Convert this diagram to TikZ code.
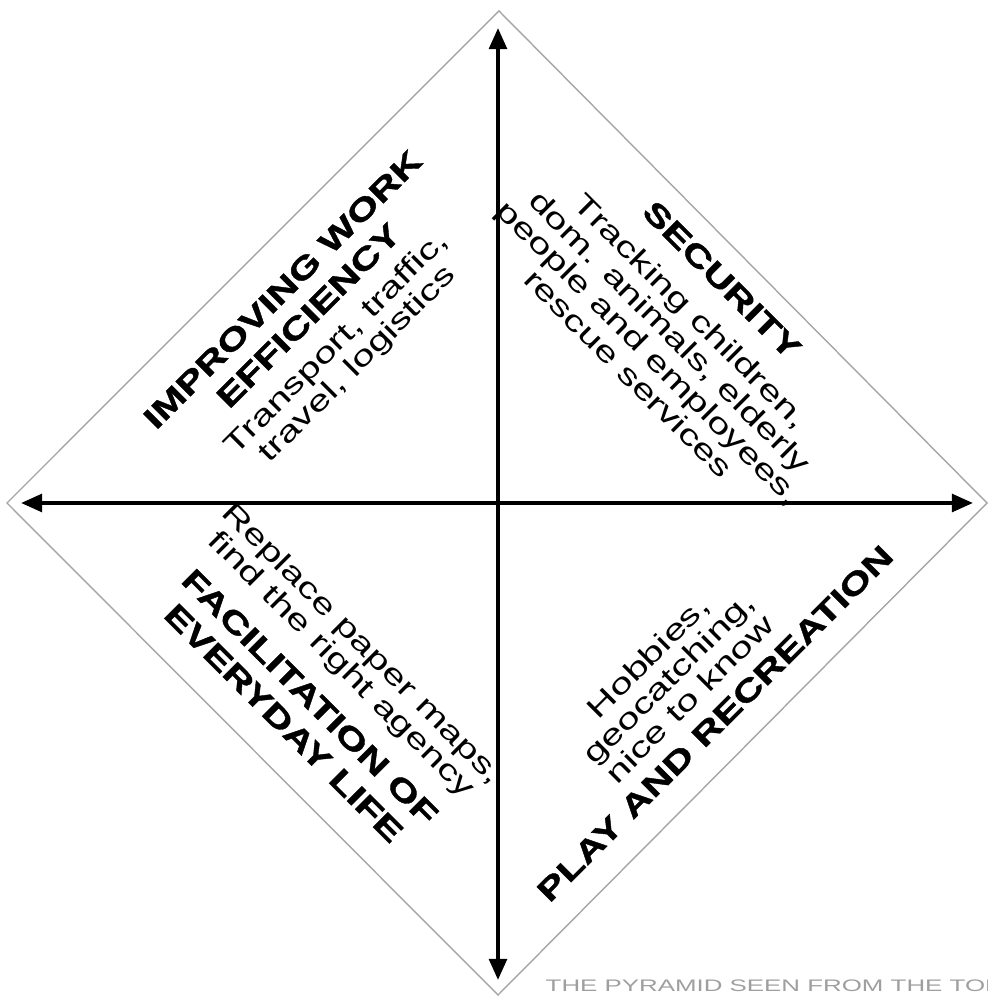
\documentclass[tikz,border=0pt]{standalone}
\usepackage{fontspec}
\usepackage{tikz}
\usetikzlibrary{arrows.meta}
\newfontfamily\headfont[FakeStretch=1.35,BoldFeatures={FakeBold=1.3}]{Liberation Sans}
\newfontfamily\bodyfont[FakeStretch=1.4]{Liberation Sans}
\newfontfamily\notefont[FakeStretch=1.55]{Liberation Sans}

\begin{document}
\begin{tikzpicture}
\tikzset{frame/.style = {draw=gray!70, line width=0.4pt}}
\tikzset{axis/.style = {line width=1.15pt, {Triangle[length=6pt,width=5pt]}-{Triangle[length=6pt,width=5pt]}}}
\tikzset{head/.style = {align=center, inner sep=0pt, font=\headfont\bfseries\fontsize{8.7}{10.5}\selectfont}}
\tikzset{body/.style = {align=center, inner sep=0pt, font=\bodyfont\fontsize{8.2}{8.4}\selectfont}}
\tikzset{note/.style = {anchor=base west, inner sep=0pt, text=gray!75, font=\notefont\fontsize{4.75}{5}\selectfont}}

\useasboundingbox (0,0) rectangle (9.88,9.96);

% the square seen from above
\coordinate (top) at (4.99,9.85);
\coordinate (right) at (9.87,4.93);
\coordinate (bottom) at (4.98,0.01);
\coordinate (left) at (0.07,4.93);
\draw[frame] (top) -- (right) -- (bottom) -- (left) -- cycle;

% axes
\coordinate (n) at (4.98,9.68);
\coordinate (s) at (4.98,0.16);
\coordinate (w) at (0.21,4.93);
\coordinate (e) at (9.73,4.93);
\draw[axis] (s) -- (n);
\draw[axis] (w) -- (e);

\node[head, rotate=45] (work) at (2.955,6.935) {IMPROVING WORK\\EFFICIENCY};
\node[body, rotate=45] (worktext) at (3.475,6.415) {Transport, traffic,\\travel, logistics};

\node[head, rotate=-45] (security) at (7.22,7.16) {SECURITY};
\node[body, rotate=-45] (securitytext) at (6.60,6.54) {Tracking children,\\dom. animals, elderly\\people and employees,\\rescue services};

\node[body, rotate=-45] (dailytext) at (3.51,3.41) {Replace paper maps,\\find the right agency};
\node[head, rotate=-45] (daily) at (2.97,2.86) {FACILITATION OF\\EVERYDAY LIFE};

\node[body, rotate=45] (playtext) at (6.685,3.183) {Hobbies,\\geocatching,\\nice to know};
\node[head, rotate=45] (play) at (7.15,2.725) {PLAY AND RECREATION};

\node[note] (caption) at (5.45,0.05) {THE PYRAMID SEEN FROM THE TOP};

\end{tikzpicture}
\end{document}
